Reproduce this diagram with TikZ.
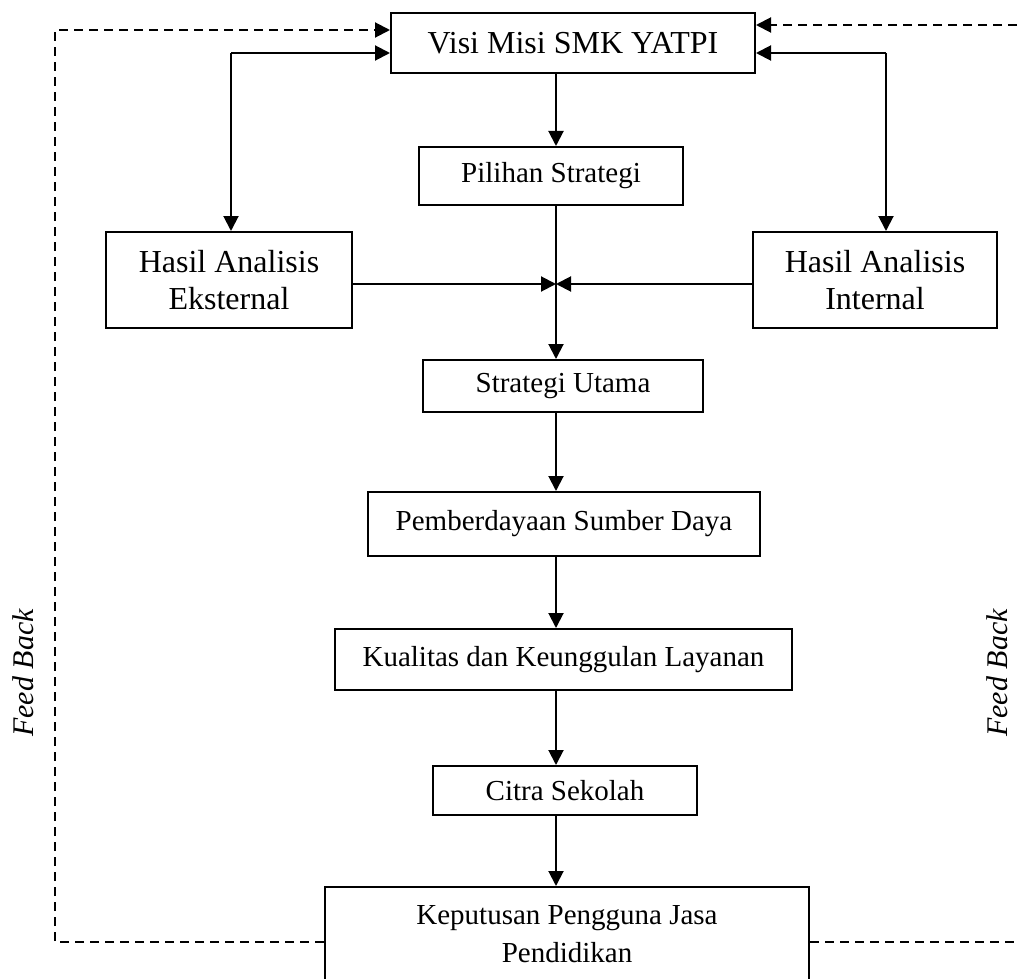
\documentclass[tikz,border=0pt]{standalone}
\usepackage{fontspec}
\setmainfont{Liberation Serif}
\usepackage{tikz}
\usetikzlibrary{positioning}
\usetikzlibrary{arrows.meta}

\begin{document}
\begin{tikzpicture}[x=1pt, y=-1pt, line width=2pt,
	every node/.style = {rectangle, black, draw=black, fill=white,
		line width=2pt, inner sep=0pt, align=center},
	besar/.style = {font=\fontsize{32}{37}\selectfont},
	kecil/.style = {font=\fontsize{29}{38}\selectfont},
	panah/.style = {-{Triangle[length=15pt,width=15pt]}},
	balik/.style = {dash pattern=on 9pt off 6pt}]
	
	\clip (0,0) rectangle (1018,979);
	
	% top layer: vision and strategy choice
	\node (visi) [besar, minimum width=364pt, minimum height=60pt] at (573,43) {Visi Misi SMK YATPI};
	\node (pilihan) [kecil, minimum width=264pt, minimum height=58pt] at (551,176) {Pilihan Strategi};
	\node (eksternal) [besar, minimum width=246pt, minimum height=96pt] at (229,280) {Hasil Analisis\\Eksternal};
	\node (internal)  [besar, minimum width=244pt, minimum height=96pt] at (875,280) {Hasil Analisis\\Internal};
	
	% main column
	\coordinate (kolom) at (556,0);
	\coordinate (temu) at (556,284);
	\node (strategi)   [kecil, minimum width=280pt, minimum height=52pt] at (563,386) {Strategi Utama};
	\node (sumberdaya) [kecil, minimum width=392pt, minimum height=64pt] at (564,524) {Pemberdayaan Sumber Daya};
	\node (kualitas)   [kecil, minimum width=457pt, minimum height=61pt] at (563.5,659.5) {Kualitas dan Keunggulan Layanan};
	\node (citra)      [kecil, minimum width=264pt, minimum height=49pt] at (565,790.5) {Citra Sekolah};
	\node (keputusan)  [kecil, minimum width=484pt, minimum height=95pt] at (567,934.5) {Keputusan Pengguna Jasa\\Pendidikan};
	
	% connections
	\draw [panah] (visi.south -| kolom) -- (pilihan.north -| kolom);
	\draw [panah] (pilihan.south -| kolom) -- (strategi.north -| kolom);
	\draw [panah] (eksternal.east |- temu) -- (temu);
	\draw [panah] (internal.west |- temu) -- (temu);
	\draw [panah] (strategi.south -| kolom) -- (sumberdaya.north -| kolom);
	\draw [panah] (sumberdaya.south -| kolom) -- (kualitas.north -| kolom);
	\draw [panah] (kualitas.south -| kolom) -- (citra.north -| kolom);
	\draw [panah] (citra.south -| kolom) -- (keputusan.north -| kolom);
	
	% two-way links to the analyses
	\coordinate (kiri) at (231,53);
	\coordinate (kanan) at (886,53);
	\draw [panah] (kiri) -- (kiri -| visi.west);
	\draw [panah] (kiri) -- (kiri |- eksternal.north);
	\draw [panah] (kanan) -- (kanan -| visi.east);
	\draw [panah] (kanan) -- (kanan |- internal.north);
	
	% feed back loops
	\coordinate (kiriAtas) at (55,30);
	\coordinate (kiriBawah) at (55,942);
	\coordinate (kananAtas) at (1040,25);
	\coordinate (kananBawah) at (1040,942);
	\draw [balik, panah] (keputusan.west |- kiriBawah) -- (kiriBawah) -- (kiriAtas) -- (kiriAtas -| visi.west);
	\draw [balik, panah] (keputusan.east |- kananBawah) -- (kananBawah) -- (kananAtas) -- (kananAtas -| visi.east);
	
	% labels
	\node (fbKiri)  [draw=none, fill=none, rotate=90, font=\fontsize{30}{36}\selectfont\itshape] at (23,673) {Feed Back};
	\node (fbKanan) [draw=none, fill=none, rotate=90, font=\fontsize{30}{36}\selectfont\itshape] at (997,673) {Feed Back};
\end{tikzpicture}
\end{document}
